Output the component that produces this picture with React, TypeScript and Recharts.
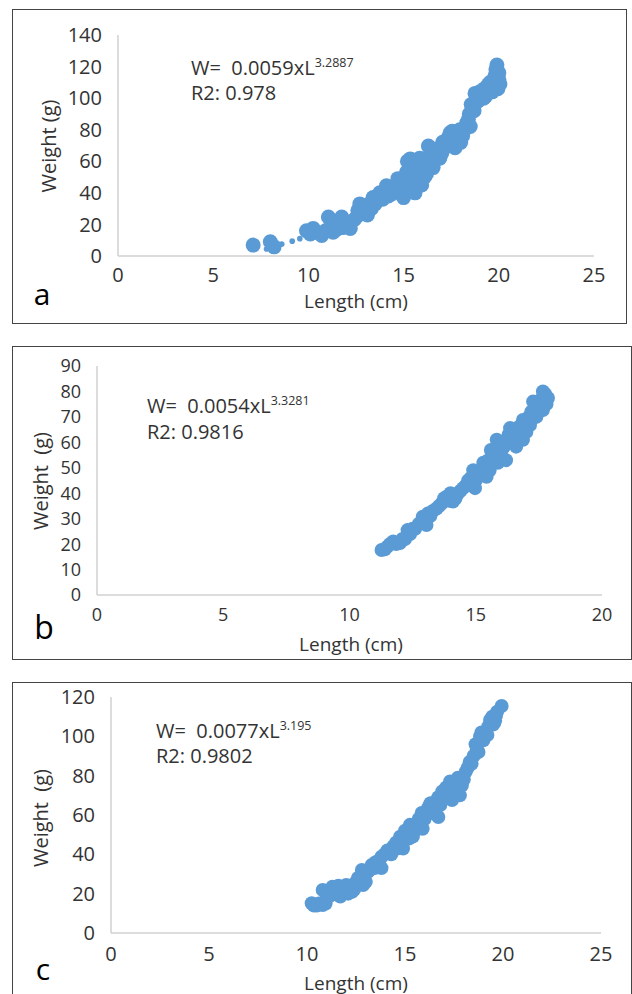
import React from 'react';
import { ScatterChart, Scatter, XAxis, YAxis } from 'recharts';

// length (cm), weight (g)
const pointsA = [
  [7.1, 6.9], [8.0, 9], [8.2, 5.8], [9.9, 16], [10.1, 14], [10.25, 17.5], [10.4, 15], [10.7, 13],
  [10.9, 16], [11.05, 24.7], [11.2, 20], [11.3, 15], [11.5, 17], [11.75, 24.7], [11.8, 18], [12.0, 19.5],
  [12.2, 17.5], [12.4, 23], [12.55, 25], [12.6, 29], [12.7, 33], [12.8, 27], [12.97, 29], [13.0, 31],
  [13.1, 26], [13.2, 33], [13.3, 30], [13.4, 37], [13.5, 33], [13.6, 35], [13.7, 38], [13.75, 40],
  [13.9, 36], [14.0, 39], [14.1, 44.5], [14.2, 38], [14.3, 42], [14.4, 39.5], [14.5, 44], [14.6, 45],
  [14.7, 49], [14.8, 45], [14.9, 41], [14.9, 48], [15.0, 37], [15.05, 42], [15.1, 47], [15.15, 53],
  [15.2, 60], [15.25, 45], [15.3, 57], [15.35, 61.5], [15.4, 55], [15.45, 48], [15.5, 52], [15.55, 58],
  [15.6, 40], [15.65, 49], [15.7, 45.8], [15.75, 54], [15.8, 58], [15.85, 62], [15.9, 50], [15.95, 45],
  [16.0, 56], [16.05, 60], [16.1, 50], [16.15, 55], [16.2, 52], [16.25, 62], [16.3, 69.7], [16.35, 58],
  [16.4, 64], [16.5, 68], [16.55, 56], [16.6, 60], [16.7, 64], [16.75, 66], [16.85, 68], [16.9, 62],
  [17.0, 65], [17.05, 72], [17.1, 68], [17.2, 70], [17.3, 72], [17.35, 75], [17.45, 78], [17.5, 70],
  [17.55, 79], [17.6, 74], [17.65, 76], [17.7, 68.6], [17.8, 72], [17.85, 76], [17.95, 80], [18.0, 72],
  [18.1, 76], [18.2, 80], [18.3, 84], [18.4, 86.6], [18.45, 90], [18.5, 82], [18.55, 96], [18.6, 93.7],
  [18.7, 92], [18.75, 103], [18.85, 101], [18.9, 98], [19.0, 104], [19.1, 104], [19.2, 100], [19.25, 106],
  [19.3, 101], [19.4, 103], [19.45, 108.6], [19.55, 110], [19.6, 106], [19.65, 104], [19.75, 110], [19.8, 114],
  [19.85, 118], [19.9, 111.7], [19.9, 121], [19.95, 106], [20.0, 116], [20.0, 112], [20.06, 109],
];
const smallA = [[7.8, 4.4], [8.6, 7.5], [9.15, 9.4], [9.55, 11]];

const pointsB = [
  [11.27, 17.7], [11.4, 18], [11.5, 19], [11.6, 20], [11.73, 21], [11.85, 20], [12.0, 20.4], [12.1, 22],
  [12.2, 22], [12.3, 25.5], [12.4, 24], [12.5, 26], [12.6, 26], [12.75, 28], [12.9, 30.8], [13.0, 29],
  [13.05, 27.5], [13.1, 32], [13.2, 31], [13.3, 33], [13.45, 34], [13.55, 35], [13.65, 36], [13.75, 38],
  [13.85, 38.6], [13.95, 37], [14.0, 40], [14.1, 36.7], [14.2, 38], [14.3, 40], [14.4, 41], [14.5, 42],
  [14.6, 43], [14.7, 45], [14.8, 46], [14.9, 49], [14.97, 42], [15.0, 45], [15.1, 47], [15.2, 49],
  [15.3, 52], [15.35, 50], [15.43, 46.5], [15.5, 53], [15.55, 49], [15.6, 57], [15.7, 53], [15.75, 56],
  [15.83, 61], [15.88, 52], [15.95, 58], [16.0, 56], [16.1, 58], [16.2, 53], [16.25, 60], [16.3, 63],
  [16.36, 65.6], [16.45, 65], [16.5, 62], [16.55, 60], [16.6, 58.3], [16.7, 66], [16.75, 64], [16.87, 61],
  [16.87, 68.8], [16.95, 66], [17.0, 64], [17.1, 70], [17.15, 66.8], [17.2, 72], [17.27, 76], [17.35, 74],
  [17.4, 70], [17.5, 72], [17.55, 74], [17.6, 77], [17.66, 72.7], [17.66, 80], [17.75, 79], [17.8, 75],
  [17.86, 77.4],
];

const pointsC = [
  [10.24, 15.1], [10.35, 14], [10.5, 14], [10.6, 15], [10.8, 14.2], [10.8, 21.9], [10.95, 15], [11.0, 18],
  [11.1, 21], [11.2, 19], [11.3, 23.5], [11.4, 22], [11.5, 20], [11.6, 24], [11.7, 18.5], [11.8, 21],
  [11.9, 23], [12.0, 24.4], [12.1, 20], [12.2, 24], [12.3, 21], [12.4, 22], [12.5, 26], [12.6, 28],
  [12.7, 25], [12.8, 32], [12.86, 24.4], [12.95, 30], [13.0, 26], [13.1, 31], [13.2, 32], [13.3, 34.6],
  [13.45, 33], [13.5, 36], [13.6, 36], [13.7, 37], [13.8, 33], [13.8, 38.8], [13.95, 40], [14.1, 42],
  [14.2, 42], [14.3, 40], [14.4, 44], [14.55, 46], [14.6, 43], [14.75, 49], [14.9, 43], [14.95, 47],
  [15.0, 52], [15.1, 50], [15.2, 48], [15.25, 55], [15.35, 54], [15.4, 49], [15.5, 52], [15.6, 56],
  [15.7, 58], [15.75, 55], [15.85, 61], [15.9, 53], [16.0, 58], [16.1, 62], [16.2, 64], [16.3, 66],
  [16.4, 61], [16.5, 63], [16.6, 67], [16.7, 59], [16.7, 69], [16.8, 65], [16.9, 72], [17.0, 70],
  [17.1, 74], [17.2, 72], [17.3, 77], [17.4, 67.6], [17.5, 73], [17.6, 76], [17.7, 79], [17.8, 70],
  [17.9, 75], [17.96, 79.5], [18.0, 78], [18.1, 82], [18.2, 84], [18.3, 87], [18.4, 86], [18.5, 90],
  [18.6, 96], [18.66, 93], [18.75, 92], [18.83, 100], [18.9, 102], [19.0, 98], [19.1, 101], [19.2, 100.6],
  [19.25, 105], [19.34, 108.3], [19.45, 110], [19.5, 106], [19.6, 108], [19.7, 112.5], [19.93, 115.4],
];
const smallC = [[19.85, 110], [19.75, 106]];

const xTicksA = [0, 5, 10, 15, 20, 25];
const yTicksA = [0, 20, 40, 60, 80, 100, 120, 140];
const xTicksB = [0, 5, 10, 15, 20];
const yTicksB = [0, 10, 20, 30, 40, 50, 60, 70, 80, 90];
const xTicksC = [0, 5, 10, 15, 20, 25];
const yTicksC = [0, 20, 40, 60, 80, 100, 120];

const BLUE = '#5B9BD5';
const FONT = '"Open Sans", sans-serif';
const TXT = '#333';
const X_AXIS_H = 30;

const toRows = (pts: number[][]) => pts.map(([x, y]) => ({ x, y }));

const dot = (r: number) => (p: any) => <circle cx={p.cx} cy={p.cy} r={r} fill={BLUE} />;

function Panel(props: any) {
  const { box, plot, yWidth, xTicks, yTicks, pts, small, eq, labels, tickSize } = props;
  const xMax = xTicks[xTicks.length - 1];
  const yMax = yTicks[yTicks.length - 1];
  // plot = {left, right, top, bottom} inside the box
  const margin = { top: plot.top, right: box.width - plot.right, bottom: box.height - plot.bottom - X_AXIS_H, left: plot.left - yWidth };
  return (
    <div
      style={{
        position: 'absolute', left: box.left, top: box.top, width: box.width, height: box.height,
        border: '1px solid #444', boxSizing: 'border-box', fontFamily: FONT, color: TXT,
      }}
    >
      <div style={{ position: 'absolute', left: -1, top: -1 }}>
        <ScatterChart width={box.width} height={box.height} margin={margin}>
          <XAxis
            type="number" dataKey="x" domain={[0, xMax]} ticks={xTicks} interval={0} height={X_AXIS_H}
            tickLine={false} tickSize={0} tickMargin={labels.xTickGap}
            axisLine={{ stroke: '#d0d0d0', strokeWidth: 1.5 }}
            tick={{ fill: TXT, fontSize: tickSize, fontFamily: FONT }}
          />
          <YAxis
            type="number" dataKey="y" domain={[0, yMax]} ticks={yTicks} interval={0} width={yWidth}
            tickLine={false} tickSize={0} tickMargin={16}
            axisLine={{ stroke: '#d0d0d0', strokeWidth: 1.5 }}
            tick={{ fill: TXT, fontSize: tickSize, fontFamily: FONT }}
          />
          <Scatter data={toRows(pts)} shape={dot(props.r)} isAnimationActive={false} />
          {small && <Scatter data={toRows(small)} shape={dot(2.8)} isAnimationActive={false} />}
        </ScatterChart>
      </div>
      <div style={{ position: 'absolute', left: eq.left, top: eq.top1, transform: 'translateY(-50%)', fontSize: 20, lineHeight: 1, whiteSpace: 'pre' }}>
        {eq.text}
        <span style={{ fontSize: 12.5, position: 'relative', top: -8 }}>{eq.exp}</span>
      </div>
      <div style={{ position: 'absolute', left: eq.left, top: eq.top2, transform: 'translateY(-50%)', fontSize: 20, lineHeight: 1, whiteSpace: 'nowrap' }}>
        {eq.r2}
      </div>
      <div style={{ position: 'absolute', left: labels.wx, top: labels.wy, transform: 'translate(-50%,-50%) rotate(-90deg)', fontSize: 20, lineHeight: 1, whiteSpace: 'pre' }}>
        {labels.weight}
      </div>
      <div style={{ position: 'absolute', left: labels.lx, top: labels.ly, transform: 'translate(-50%,-50%)', fontSize: 19, lineHeight: 1, whiteSpace: 'nowrap' }}>
        Length (cm)
      </div>
      <div style={{ position: 'absolute', left: labels.cx, top: labels.cy, transform: 'translate(-50%,-50%)', fontSize: labels.cSize, lineHeight: 1, color: '#000' }}>
        {labels.letter}
      </div>
    </div>
  );
}

export default function App() {
  return (
    <div style={{ position: 'absolute', left: 0, top: 0, width: 632, height: 994, overflow: 'hidden', background: '#fff' }}>
      <Panel
        box={{ left: 12, top: 9, width: 615, height: 315 }}
        plot={{ left: 106, right: 582, top: 26, bottom: 247 }}
        yWidth={106} xTicks={xTicksA} yTicks={yTicksA} pts={pointsA} small={smallA} r={7.5} tickSize={20}
        eq={{ left: 178, top1: 58, top2: 83, text: 'W=  0.0059xL', exp: '3.2887', r2: 'R2: 0.978' }}
        labels={{ weight: 'Weight (g)', wx: 36, wy: 136, lx: 343, ly: 291, letter: 'a', cx: 29, cy: 284, cSize: 30, xTickGap: 12 }}
      />
      <Panel
        box={{ left: 12, top: 346, width: 620, height: 314 }}
        plot={{ left: 85, right: 590, top: 20, bottom: 249 }}
        yWidth={85} xTicks={xTicksB} yTicks={yTicksB} pts={pointsB} r={7} tickSize={18}
        eq={{ left: 134, top1: 59, top2: 85, text: 'W=  0.0054xL', exp: '3.3281', r2: 'R2: 0.9816' }}
        labels={{ weight: 'Weight  (g)', wx: 28, wy: 134, lx: 338, ly: 297, letter: 'b', cx: 31, cy: 280, cSize: 32, xTickGap: 13 }}
      />
      <Panel
        box={{ left: 12, top: 682, width: 620, height: 330 }}
        plot={{ left: 99, right: 589, top: 15, bottom: 251 }}
        yWidth={99} xTicks={xTicksC} yTicks={yTicksC} pts={pointsC} small={smallC} r={7} tickSize={20}
        eq={{ left: 143, top1: 48, top2: 73, text: 'W=  0.0077xL', exp: '3.195', r2: 'R2: 0.9802' }}
        labels={{ weight: 'Weight  (g)', wx: 28, wy: 135, lx: 343, ly: 300, letter: 'c', cx: 30, cy: 286, cSize: 30, xTickGap: 14 }}
      />
    </div>
  );
}
